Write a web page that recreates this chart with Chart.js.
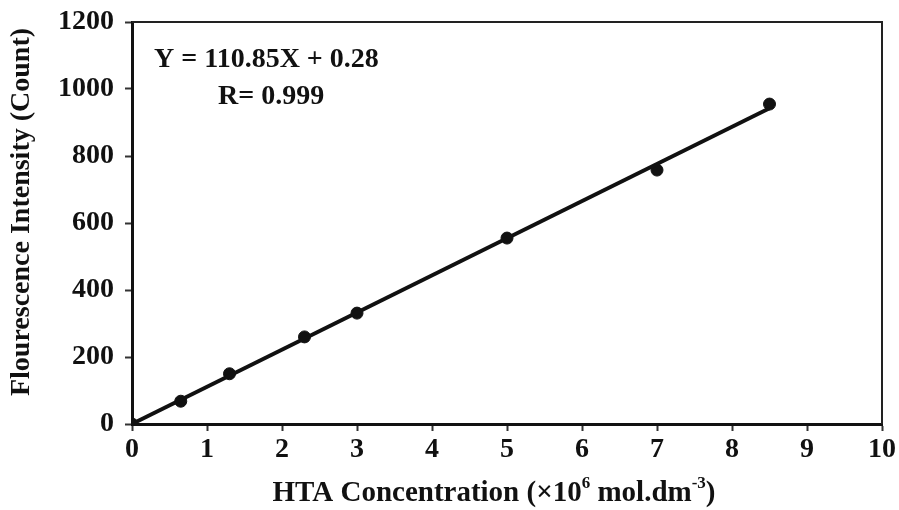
<!DOCTYPE html>
<html>
<head>
<meta charset="utf-8">
<script src="https://cdn.jsdelivr.net/npm/chart.js@4.4.1/dist/chart.umd.min.js"></script>
<style>
    html, body { margin: 0; padding: 0; background: #fff; }
    #wrap { width: 899px; height: 510px; }
</style>
</head>
<body>
<div id="wrap"><canvas id="canvas"></canvas></div>
<script>
// calibration data: HTA concentration vs fluorescence intensity
var concentration = [0, 0.65, 1.3, 2.3, 3, 5, 7, 8.5];
var intensity = [0, 68, 150, 260, 331, 555, 758, 955];

// fitted line Y = 110.85X + 0.28, R = 0.999
var slope = 110.85;
var intercept = 0.28;
var fitRange = [0, 8.5];

var xTicks = [0, 1, 2, 3, 4, 5, 6, 7, 8, 9, 10];
var yTicks = [0, 200, 400, 600, 800, 1000, 1200];

var serif = "'Liberation Serif', 'Times New Roman', serif";

var points = concentration.map(function (x, i) {
    return {x: x, y: intensity[i]};
});

var fitLine = fitRange.map(function (x) {
    return {x: x, y: slope * x + intercept};
});

// frame, equation and axis titles
var annotations = {
    id: 'annotations',
    afterDraw: function (chart) {
        var ctx = chart.ctx;
        var a = chart.chartArea;
        ctx.save();

        ctx.strokeStyle = '#222';
        ctx.lineWidth = 2;
        ctx.beginPath();
        ctx.moveTo(a.left, a.top);
        ctx.lineTo(a.right, a.top);
        ctx.lineTo(a.right, a.bottom);
        ctx.stroke();

        ctx.fillStyle = '#111';
        ctx.font = 'bold 28px ' + serif;
        ctx.textBaseline = 'middle';
        ctx.textAlign = 'left';
        ctx.fillText('Y = ' + slope + 'X + ' + intercept, a.left + 22, a.top + 38);
        ctx.fillText('R= 0.999', a.left + 86, a.top + 75);

        // y axis title
        ctx.save();
        ctx.translate(22, (a.top + a.bottom) / 2 - 11);
        ctx.rotate(-Math.PI / 2);
        ctx.textAlign = 'center';
        ctx.font = 'bold 28px ' + serif;
        ctx.fillText('Flourescence Intensity (Count)', 0, 0);
        ctx.restore();

        // x axis title with superscripts
        var parts = [
            ['HTA Concentration (\u00d710', false],
            ['6', true],
            [' mol.dm', false],
            ['-3', true],
            [')', false]
        ];
        var big = 'bold 29px ' + serif;
        var small = 'bold 17px ' + serif;
        var total = 0;
        parts.forEach(function (p) {
            ctx.font = p[1] ? small : big;
            total += ctx.measureText(p[0]).width;
        });
        var x = (a.left + a.right) / 2 - total / 2 - 13;
        var y = 494;
        ctx.textAlign = 'left';
        parts.forEach(function (p) {
            ctx.font = p[1] ? small : big;
            ctx.fillText(p[0], x, p[1] ? y - 10 : y);
            x += ctx.measureText(p[0]).width;
        });

        ctx.restore();
    }
};

var tickFont = {family: serif, size: 28, weight: 'bold'};

new Chart(document.getElementById('canvas').getContext('2d'), {
    type: 'scatter',
    data: {
        datasets: [
            {
                type: 'line',
                data: fitLine,
                borderColor: '#111',
                borderWidth: 4,
                pointRadius: 0,
                fill: false
            },
            {
                data: points,
                backgroundColor: '#111',
                borderColor: '#111',
                pointRadius: 6
            }
        ]
    },
    options: {
        responsive: true,
        maintainAspectRatio: false,
        animation: false,
        layout: {padding: {left: 0, right: 17, top: 22, bottom: 0}},
        plugins: {
            legend: {display: false},
            tooltip: {enabled: false}
        },
        scales: {
            x: {
                type: 'linear',
                min: 0,
                max: 10,
                afterBuildTicks: function (scale) {
                    scale.ticks = xTicks.map(function (v) { return {value: v}; });
                },
                afterFit: function (scale) {
                    scale.height = 86;
                    scale.paddingLeft = 0;
                    scale.paddingRight = 0;
                },
                grid: {
                    drawOnChartArea: false,
                    drawTicks: true,
                    tickLength: 7,
                    tickWidth: 2,
                    tickColor: '#333'
                },
                border: {display: true, color: '#111', width: 3},
                ticks: {
                    color: '#111',
                    font: tickFont,
                    padding: 2,
                    callback: function (v) { return String(v); }
                }
            },
            y: {
                type: 'linear',
                min: 0,
                max: 1200,
                afterBuildTicks: function (scale) {
                    scale.ticks = yTicks.map(function (v) { return {value: v}; });
                },
                afterFit: function (scale) {
                    scale.width = 132;
                    scale.paddingTop = 0;
                    scale.paddingBottom = 0;
                },
                grid: {
                    drawOnChartArea: false,
                    drawTicks: true,
                    tickLength: 7,
                    tickWidth: 2,
                    tickColor: '#333'
                },
                border: {display: true, color: '#111', width: 3},
                ticks: {
                    color: '#111',
                    font: tickFont,
                    padding: 11,
                    callback: function (v) { return String(v); }
                }
            }
        }
    },
    plugins: [annotations]
});
</script>
</body>
</html>
